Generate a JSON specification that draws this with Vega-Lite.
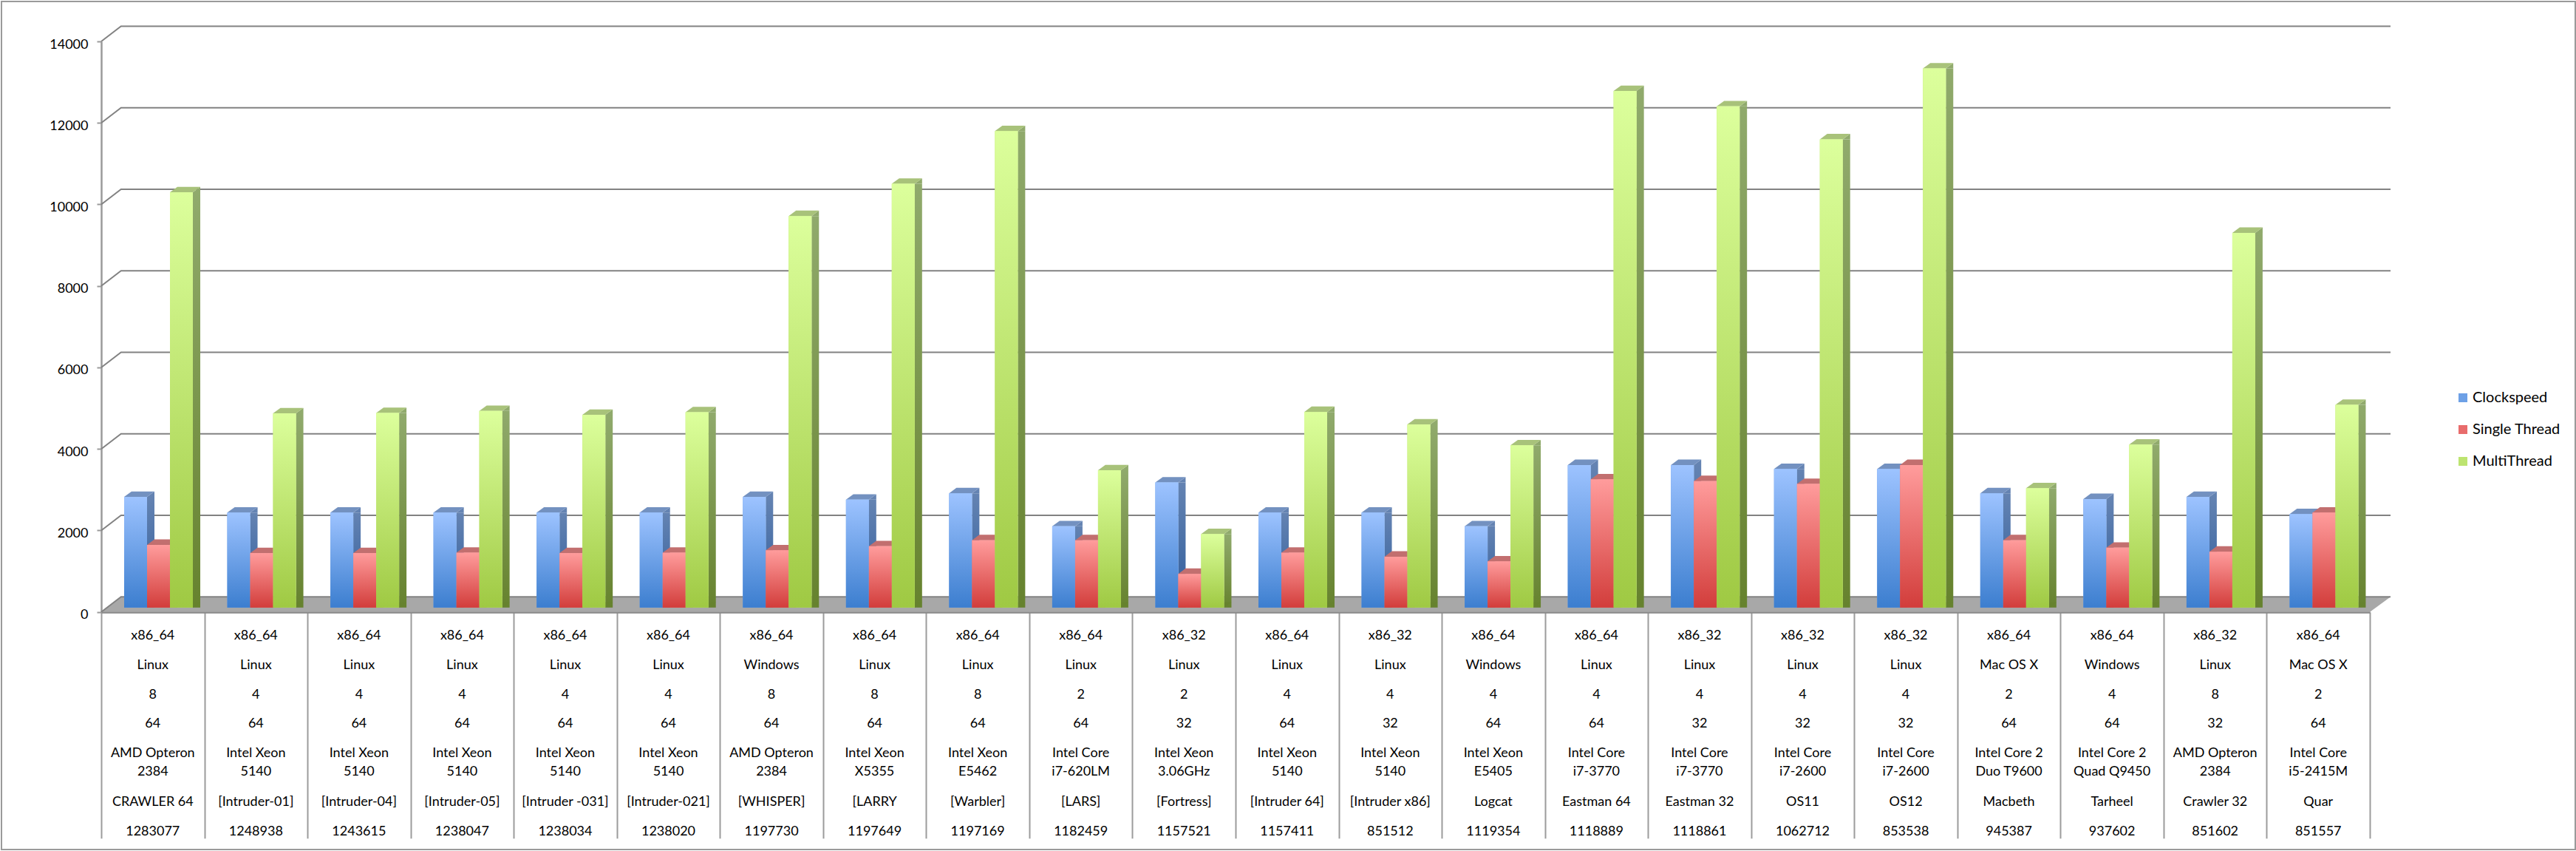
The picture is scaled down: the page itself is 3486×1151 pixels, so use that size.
{"$schema":"https://vega.github.io/schema/vega-lite/v6.json","width":3483,"height":1147,"autosize":{"type":"none"},"padding":{"left":2,"top":2,"right":1,"bottom":2},"background":"white","config":{"view":{"stroke":"#9a9a9a","strokeWidth":2},"font":"Lato"},"datasets":{"ticks":[{"id":"1283077","tick":0},{"id":"1283077","tick":2000},{"id":"1283077","tick":4000},{"id":"1283077","tick":6000},{"id":"1283077","tick":8000},{"id":"1283077","tick":10000},{"id":"1283077","tick":12000},{"id":"1283077","tick":14000}],"bars":[
{"id":"1283077","series":"Clockspeed","value":2716},{"id":"1283077","series":"Single Thread","value":1538},{"id":"1283077","series":"MultiThread","value":10188},
{"id":"1248938","series":"Clockspeed","value":2329},{"id":"1248938","series":"Single Thread","value":1336},{"id":"1248938","series":"MultiThread","value":4764},
{"id":"1243615","series":"Clockspeed","value":2329},{"id":"1243615","series":"Single Thread","value":1336},{"id":"1243615","series":"MultiThread","value":4773},
{"id":"1238047","series":"Clockspeed","value":2329},{"id":"1238047","series":"Single Thread","value":1345},{"id":"1238047","series":"MultiThread","value":4826},
{"id":"1238034","series":"Clockspeed","value":2329},{"id":"1238034","series":"Single Thread","value":1336},{"id":"1238034","series":"MultiThread","value":4729},
{"id":"1238020","series":"Clockspeed","value":2329},{"id":"1238020","series":"Single Thread","value":1345},{"id":"1238020","series":"MultiThread","value":4791},
{"id":"1197730","series":"Clockspeed","value":2716},{"id":"1197730","series":"Single Thread","value":1406},{"id":"1197730","series":"MultiThread","value":9607},
{"id":"1197649","series":"Clockspeed","value":2646},{"id":"1197649","series":"Single Thread","value":1503},{"id":"1197649","series":"MultiThread","value":10399},
{"id":"1197169","series":"Clockspeed","value":2804},{"id":"1197169","series":"Single Thread","value":1652},{"id":"1197169","series":"MultiThread","value":11691},
{"id":"1182459","series":"Clockspeed","value":1995},{"id":"1182459","series":"Single Thread","value":1652},{"id":"1182459","series":"MultiThread","value":3367},
{"id":"1157521","series":"Clockspeed","value":3068},{"id":"1157521","series":"Single Thread","value":826},{"id":"1157521","series":"MultiThread","value":1802},
{"id":"1157411","series":"Clockspeed","value":2329},{"id":"1157411","series":"Single Thread","value":1345},{"id":"1157411","series":"MultiThread","value":4799},
{"id":"851512","series":"Clockspeed","value":2329},{"id":"851512","series":"Single Thread","value":1248},{"id":"851512","series":"MultiThread","value":4492},
{"id":"1119354","series":"Clockspeed","value":1995},{"id":"1119354","series":"Single Thread","value":1134},{"id":"1119354","series":"MultiThread","value":3982},
{"id":"1118889","series":"Clockspeed","value":3498},{"id":"1118889","series":"Single Thread","value":3147},{"id":"1118889","series":"MultiThread","value":12675},
{"id":"1118861","series":"Clockspeed","value":3498},{"id":"1118861","series":"Single Thread","value":3103},{"id":"1118861","series":"MultiThread","value":12297},
{"id":"1062712","series":"Clockspeed","value":3402},{"id":"1062712","series":"Single Thread","value":3033},{"id":"1062712","series":"MultiThread","value":11489},
{"id":"853538","series":"Clockspeed","value":3402},{"id":"853538","series":"Single Thread","value":3498},{"id":"853538","series":"MultiThread","value":13229},
{"id":"945387","series":"Clockspeed","value":2804},{"id":"945387","series":"Single Thread","value":1652},{"id":"945387","series":"MultiThread","value":2927},
{"id":"937602","series":"Clockspeed","value":2663},{"id":"937602","series":"Single Thread","value":1468},{"id":"937602","series":"MultiThread","value":3999},
{"id":"851602","series":"Clockspeed","value":2716},{"id":"851602","series":"Single Thread","value":1371},{"id":"851602","series":"MultiThread","value":9194},
{"id":"851557","series":"Clockspeed","value":2294},{"id":"851557","series":"Single Thread","value":2329},{"id":"851557","series":"MultiThread","value":4975}
],"cells":[
{"id":"1283077","row":"Architecture","text":"x86_64"},{"id":"1283077","row":"OS","text":"Linux"},{"id":"1283077","row":"Cores","text":"8"},{"id":"1283077","row":"Bits","text":"64"},{"id":"1283077","row":"Processor","text":"AMD Opteron\n2384"},{"id":"1283077","row":"Host","text":"CRAWLER 64"},{"id":"1283077","row":"Build","text":"1283077"},
{"id":"1248938","row":"Architecture","text":"x86_64"},{"id":"1248938","row":"OS","text":"Linux"},{"id":"1248938","row":"Cores","text":"4"},{"id":"1248938","row":"Bits","text":"64"},{"id":"1248938","row":"Processor","text":"Intel Xeon\n5140"},{"id":"1248938","row":"Host","text":"[Intruder-01]"},{"id":"1248938","row":"Build","text":"1248938"},
{"id":"1243615","row":"Architecture","text":"x86_64"},{"id":"1243615","row":"OS","text":"Linux"},{"id":"1243615","row":"Cores","text":"4"},{"id":"1243615","row":"Bits","text":"64"},{"id":"1243615","row":"Processor","text":"Intel Xeon\n5140"},{"id":"1243615","row":"Host","text":"[Intruder-04]"},{"id":"1243615","row":"Build","text":"1243615"},
{"id":"1238047","row":"Architecture","text":"x86_64"},{"id":"1238047","row":"OS","text":"Linux"},{"id":"1238047","row":"Cores","text":"4"},{"id":"1238047","row":"Bits","text":"64"},{"id":"1238047","row":"Processor","text":"Intel Xeon\n5140"},{"id":"1238047","row":"Host","text":"[Intruder-05]"},{"id":"1238047","row":"Build","text":"1238047"},
{"id":"1238034","row":"Architecture","text":"x86_64"},{"id":"1238034","row":"OS","text":"Linux"},{"id":"1238034","row":"Cores","text":"4"},{"id":"1238034","row":"Bits","text":"64"},{"id":"1238034","row":"Processor","text":"Intel Xeon\n5140"},{"id":"1238034","row":"Host","text":"[Intruder -031]"},{"id":"1238034","row":"Build","text":"1238034"},
{"id":"1238020","row":"Architecture","text":"x86_64"},{"id":"1238020","row":"OS","text":"Linux"},{"id":"1238020","row":"Cores","text":"4"},{"id":"1238020","row":"Bits","text":"64"},{"id":"1238020","row":"Processor","text":"Intel Xeon\n5140"},{"id":"1238020","row":"Host","text":"[Intruder-021]"},{"id":"1238020","row":"Build","text":"1238020"},
{"id":"1197730","row":"Architecture","text":"x86_64"},{"id":"1197730","row":"OS","text":"Windows"},{"id":"1197730","row":"Cores","text":"8"},{"id":"1197730","row":"Bits","text":"64"},{"id":"1197730","row":"Processor","text":"AMD Opteron\n2384"},{"id":"1197730","row":"Host","text":"[WHISPER]"},{"id":"1197730","row":"Build","text":"1197730"},
{"id":"1197649","row":"Architecture","text":"x86_64"},{"id":"1197649","row":"OS","text":"Linux"},{"id":"1197649","row":"Cores","text":"8"},{"id":"1197649","row":"Bits","text":"64"},{"id":"1197649","row":"Processor","text":"Intel Xeon\nX5355"},{"id":"1197649","row":"Host","text":"[LARRY"},{"id":"1197649","row":"Build","text":"1197649"},
{"id":"1197169","row":"Architecture","text":"x86_64"},{"id":"1197169","row":"OS","text":"Linux"},{"id":"1197169","row":"Cores","text":"8"},{"id":"1197169","row":"Bits","text":"64"},{"id":"1197169","row":"Processor","text":"Intel Xeon\nE5462"},{"id":"1197169","row":"Host","text":"[Warbler]"},{"id":"1197169","row":"Build","text":"1197169"},
{"id":"1182459","row":"Architecture","text":"x86_64"},{"id":"1182459","row":"OS","text":"Linux"},{"id":"1182459","row":"Cores","text":"2"},{"id":"1182459","row":"Bits","text":"64"},{"id":"1182459","row":"Processor","text":"Intel Core\ni7-620LM"},{"id":"1182459","row":"Host","text":"[LARS]"},{"id":"1182459","row":"Build","text":"1182459"},
{"id":"1157521","row":"Architecture","text":"x86_32"},{"id":"1157521","row":"OS","text":"Linux"},{"id":"1157521","row":"Cores","text":"2"},{"id":"1157521","row":"Bits","text":"32"},{"id":"1157521","row":"Processor","text":"Intel Xeon\n3.06GHz"},{"id":"1157521","row":"Host","text":"[Fortress]"},{"id":"1157521","row":"Build","text":"1157521"},
{"id":"1157411","row":"Architecture","text":"x86_64"},{"id":"1157411","row":"OS","text":"Linux"},{"id":"1157411","row":"Cores","text":"4"},{"id":"1157411","row":"Bits","text":"64"},{"id":"1157411","row":"Processor","text":"Intel Xeon\n5140"},{"id":"1157411","row":"Host","text":"[Intruder 64]"},{"id":"1157411","row":"Build","text":"1157411"},
{"id":"851512","row":"Architecture","text":"x86_32"},{"id":"851512","row":"OS","text":"Linux"},{"id":"851512","row":"Cores","text":"4"},{"id":"851512","row":"Bits","text":"32"},{"id":"851512","row":"Processor","text":"Intel Xeon\n5140"},{"id":"851512","row":"Host","text":"[Intruder x86]"},{"id":"851512","row":"Build","text":"851512"},
{"id":"1119354","row":"Architecture","text":"x86_64"},{"id":"1119354","row":"OS","text":"Windows"},{"id":"1119354","row":"Cores","text":"4"},{"id":"1119354","row":"Bits","text":"64"},{"id":"1119354","row":"Processor","text":"Intel Xeon\nE5405"},{"id":"1119354","row":"Host","text":"Logcat"},{"id":"1119354","row":"Build","text":"1119354"},
{"id":"1118889","row":"Architecture","text":"x86_64"},{"id":"1118889","row":"OS","text":"Linux"},{"id":"1118889","row":"Cores","text":"4"},{"id":"1118889","row":"Bits","text":"64"},{"id":"1118889","row":"Processor","text":"Intel Core\ni7-3770"},{"id":"1118889","row":"Host","text":"Eastman 64"},{"id":"1118889","row":"Build","text":"1118889"},
{"id":"1118861","row":"Architecture","text":"x86_32"},{"id":"1118861","row":"OS","text":"Linux"},{"id":"1118861","row":"Cores","text":"4"},{"id":"1118861","row":"Bits","text":"32"},{"id":"1118861","row":"Processor","text":"Intel Core\ni7-3770"},{"id":"1118861","row":"Host","text":"Eastman 32"},{"id":"1118861","row":"Build","text":"1118861"},
{"id":"1062712","row":"Architecture","text":"x86_32"},{"id":"1062712","row":"OS","text":"Linux"},{"id":"1062712","row":"Cores","text":"4"},{"id":"1062712","row":"Bits","text":"32"},{"id":"1062712","row":"Processor","text":"Intel Core\ni7-2600"},{"id":"1062712","row":"Host","text":"OS11"},{"id":"1062712","row":"Build","text":"1062712"},
{"id":"853538","row":"Architecture","text":"x86_32"},{"id":"853538","row":"OS","text":"Linux"},{"id":"853538","row":"Cores","text":"4"},{"id":"853538","row":"Bits","text":"32"},{"id":"853538","row":"Processor","text":"Intel Core\ni7-2600"},{"id":"853538","row":"Host","text":"OS12"},{"id":"853538","row":"Build","text":"853538"},
{"id":"945387","row":"Architecture","text":"x86_64"},{"id":"945387","row":"OS","text":"Mac OS X"},{"id":"945387","row":"Cores","text":"2"},{"id":"945387","row":"Bits","text":"64"},{"id":"945387","row":"Processor","text":"Intel Core 2\nDuo T9600"},{"id":"945387","row":"Host","text":"Macbeth"},{"id":"945387","row":"Build","text":"945387"},
{"id":"937602","row":"Architecture","text":"x86_64"},{"id":"937602","row":"OS","text":"Windows"},{"id":"937602","row":"Cores","text":"4"},{"id":"937602","row":"Bits","text":"64"},{"id":"937602","row":"Processor","text":"Intel Core 2\nQuad Q9450"},{"id":"937602","row":"Host","text":"Tarheel"},{"id":"937602","row":"Build","text":"937602"},
{"id":"851602","row":"Architecture","text":"x86_32"},{"id":"851602","row":"OS","text":"Linux"},{"id":"851602","row":"Cores","text":"8"},{"id":"851602","row":"Bits","text":"32"},{"id":"851602","row":"Processor","text":"AMD Opteron\n2384"},{"id":"851602","row":"Host","text":"Crawler 32"},{"id":"851602","row":"Build","text":"851602"},
{"id":"851557","row":"Architecture","text":"x86_64"},{"id":"851557","row":"OS","text":"Mac OS X"},{"id":"851557","row":"Cores","text":"2"},{"id":"851557","row":"Bits","text":"64"},{"id":"851557","row":"Processor","text":"Intel Core\ni5-2415M"},{"id":"851557","row":"Host","text":"Quar"},{"id":"851557","row":"Build","text":"851557"}
]},
"encoding":{"x":{"field":"id","type":"nominal","title":null,"scale":{"type":"band","domain":["1283077","1248938","1243615","1238047","1238034","1238020","1197730","1197649","1197169","1182459","1157521","1157411","851512","1119354","1118889","1118861","1062712","853538","945387","937602","851602","851557"],"range":[135,3205],"paddingInner":0,"paddingOuter":0},"axis":{"orient":"bottom","offset":-321.3,"labels":false,"title":null,"grid":false,"tickBand":"extent","tickSize":306,"tickColor":"#9c9c9c","tickWidth":2,"domainColor":"#8a8a8a","domainWidth":3}}},
"resolve":{"scale":{"y":"independent"}},
"layer":[
{"resolve":{"scale":{"color":"independent","xOffset":"independent"}},
"encoding":{"y":{"field":"value","type":"quantitative","title":null,"scale":{"domain":[0,14000],"range":[825.7,54],"nice":false,"zero":true},"axis":{"orient":"left","offset":-135,"values":[0,2000,4000,6000,8000,10000,12000,14000],"format":"d","grid":false,"title":null,"domainColor":"#9a9a9a","domainWidth":2.5,"tickColor":"#9a9a9a","tickWidth":2,"tickSize":6,"labelFont":"Lato","labelFontSize":18,"labelColor":"#000000","labelPadding":12,"labelOffset":4}}},
"layer":[
{"data":{"name":"ticks"},"transform":[{"filter":"datum.tick===0"}],"mark":{"type":"point","shape":"M-69.75,0 L3000.25,0 L3028.25,-20.5 L-43,-20.5 Z","size":4,"filled":true,"fill":"#a8a8a8","opacity":1},"encoding":{"y":{"field":"tick","type":"quantitative"}}},
{"data":{"name":"ticks"},"mark":{"type":"point","shape":"M-69.75,0 L-43,-20.5 L3028.25,-20.5","size":4,"filled":false,"stroke":"#828282","strokeWidth":2,"opacity":1},"encoding":{"y":{"field":"tick","type":"quantitative"}}},
{"data":{"name":"bars"},"mark":{"type":"bar","width":10,"yOffset":-6,"y2Offset":-13.3,"fill":{"expr":"{gradient:'linear',x1:0,y1:0,x2:0,y2:1,stops:datum.series==='Clockspeed'?[{offset:0,color:'#6483b2'},{offset:1,color:'#2f5d9c'}]:datum.series==='Single Thread'?[{offset:0,color:'#c06c6c'},{offset:1,color:'#8a2c2a'}]:[{offset:0,color:'#90aa6c'},{offset:1,color:'#66822e'}]}"}},
 "encoding":{"xOffset":{"field":"series","type":"nominal","sort":null,"scale":{"type":"band","domain":["Clockspeed","Single Thread","MultiThread"],"range":[51.5,144.5],"paddingInner":0,"paddingOuter":0}}}},
{"data":{"name":"bars"},"mark":{"type":"point","shape":"M15.5,0 L25.5,-7.3 L25.5,0 Z","size":4,"filled":true,"opacity":1,"yOffset":-6},
 "encoding":{"xOffset":{"field":"series","type":"nominal","sort":null,"scale":{"type":"band","domain":["Clockspeed","Single Thread","MultiThread"],"range":[31,124],"paddingInner":0,"paddingOuter":0}},
 "color":{"field":"series","type":"nominal","legend":null,"scale":{"domain":["Clockspeed","Single Thread","MultiThread"],"range":["#6483b2","#c06c6c","#90aa6c"]}}}},
{"data":{"name":"bars"},"mark":{"type":"point","shape":"M15.5,-7.3 L25.5,-7.3 L15.5,0 Z","size":4,"filled":true,"opacity":1,"yOffset":-6},
 "encoding":{"y":{"datum":0,"type":"quantitative"},"xOffset":{"field":"series","type":"nominal","sort":null,"scale":{"type":"band","domain":["Clockspeed","Single Thread","MultiThread"],"range":[31,124],"paddingInner":0,"paddingOuter":0}},
 "color":{"field":"series","type":"nominal","legend":null,"scale":{"domain":["Clockspeed","Single Thread","MultiThread"],"range":["#2f5d9c","#8a2c2a","#66822e"]}}}},
{"data":{"name":"bars"},"mark":{"type":"point","shape":"M-15.5,0 L15.5,0 L25.5,-7.3 L-5.5,-7.3 Z","size":4,"filled":true,"opacity":1,"yOffset":-6},
 "encoding":{"xOffset":{"field":"series","type":"nominal","sort":null,"scale":{"type":"band","domain":["Clockspeed","Single Thread","MultiThread"],"range":[31,124],"paddingInner":0,"paddingOuter":0}},
 "color":{"field":"series","type":"nominal","legend":null,"scale":{"domain":["Clockspeed","Single Thread","MultiThread"],"range":["#7391c0","#c26f6f","#a8c27a"]}}}},
{"data":{"name":"bars"},"mark":{"type":"bar","yOffset":-6,"y2Offset":-6},
 "encoding":{"xOffset":{"field":"series","type":"nominal","sort":null,"scale":{"type":"band","domain":["Clockspeed","Single Thread","MultiThread"],"range":[31,124],"paddingInner":0,"paddingOuter":0}},
 "color":{"field":"series","type":"nominal","sort":null,"scale":{"domain":["Clockspeed","Single Thread","MultiThread"],"range":["#6da0e6","#e86c6c","#bde470"]},
 "legend":{"title":null,"orient":"none","legendX":3321,"legendY":526,"symbolType":"square","symbolSize":144,"symbolStrokeWidth":0,"labelFont":"Lato","labelFontSize":20,"labelColor":"#000000","labelOffset":3,"rowPadding":23,"encoding":{"symbols":{"update":{"fill":{"signal":"{gradient:'linear',x1:0,y1:0,x2:0,y2:1,stops:datum.value==='Clockspeed'?[{offset:0,color:'#9dc3ff'},{offset:1,color:'#3c7ecf'}]:datum.value==='Single Thread'?[{offset:0,color:'#ff9c9c'},{offset:1,color:'#d23d3b'}]:[{offset:0,color:'#dcff9c'},{offset:1,color:'#9fc943'}]}"}}}}}}}},
{"data":{"name":"bars"},"mark":{"type":"bar","yOffset":-6,"y2Offset":-6,"fill":{"expr":"{gradient:'linear',x1:0,y1:0,x2:0,y2:1,stops:datum.series==='Clockspeed'?[{offset:0,color:'#9dc3ff'},{offset:1,color:'#3c7ecf'}]:datum.series==='Single Thread'?[{offset:0,color:'#ff9c9c'},{offset:1,color:'#d23d3b'}]:[{offset:0,color:'#dcff9c'},{offset:1,color:'#9fc943'}]}"}},
 "encoding":{"xOffset":{"field":"series","type":"nominal","sort":null,"scale":{"type":"band","domain":["Clockspeed","Single Thread","MultiThread"],"range":[31,124],"paddingInner":0,"paddingOuter":0}}}}
]},
{"data":{"name":"cells"},"mark":{"type":"text","font":"Lato","fontSize":18,"color":"#000000","lineBreak":"\n","lineHeight":25,"baseline":"middle","align":"center"},
 "encoding":{"y":{"field":"row","type":"nominal","axis":null,"scale":{"type":"point","padding":0,"domain":["Architecture","a1","a2","OS","o1","o2","Cores","c1","c2","Bits","b1","b2","Processor","b3","p1","p2","p3","Host","h1","h2","Build"],"range":[858,1123]}},"text":{"field":"text","type":"nominal"}}}
]}
